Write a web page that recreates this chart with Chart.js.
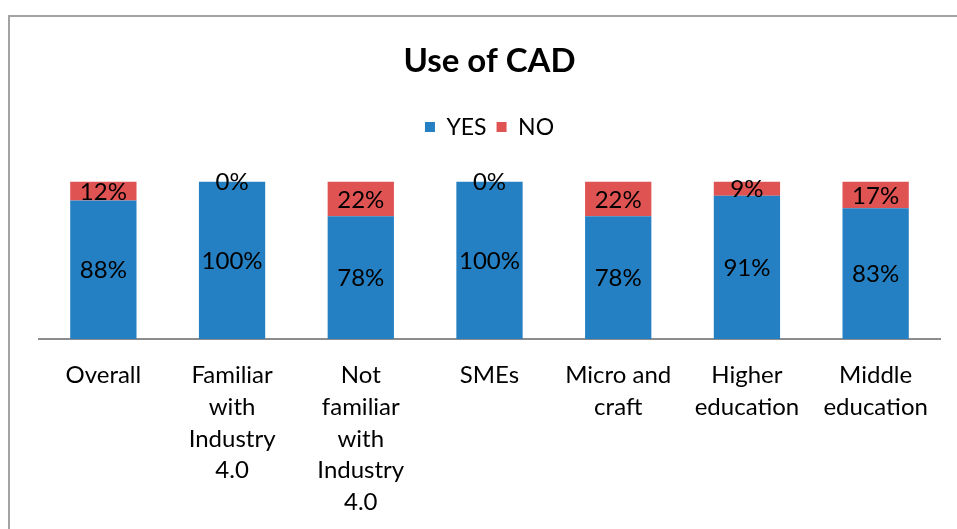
<!DOCTYPE html>
<html>
<head>
<meta charset="utf-8">
<script src="https://cdn.jsdelivr.net/npm/chart.js@4"></script>
<style>
  html, body { margin: 0; padding: 0; background: #fff; }
  #wrap { position: relative; width: 957px; height: 529px; overflow: hidden; }
  #frame {
    position: absolute; left: 8px; top: 15px; width: 1000px; height: 600px;
    border-left: 2px solid #a3a3a3; border-top: 2px solid #a3a3a3;
  }
  #cad-chart { position: absolute; left: 0; top: 0; }
</style>
</head>
<body>
<div id="wrap">
  <div id="frame"></div>
  <canvas id="cad-chart" width="957" height="529"></canvas>
</div>
<script>
// ── DATA ───────────────────────────────────────────
const categories = [
  "Overall",
  ["Familiar", "with", "Industry", "4.0"],
  ["Not", "familiar", "with", "Industry", "4.0"],
  "SMEs",
  ["Micro and", "craft"],
  ["Higher", "education"],
  ["Middle", "education"]
];
const yesValues = [88, 100, 78, 100, 78, 91, 83];
const noValues  = [12, 0, 22, 0, 22, 9, 17];

const FONT = "Lato, 'Open Sans', sans-serif";

// labels in the middle of each segment
const segmentLabels = {
  id: "segmentLabels",
  afterDatasetsDraw(chart) {
    const ctx = chart.ctx;
    ctx.save();
    ctx.font = `24px ${FONT}`;
    ctx.fillStyle = "#000";
    ctx.textAlign = "center";
    ctx.textBaseline = "middle";
    chart.data.datasets.forEach((ds, di) => {
      const meta = chart.getDatasetMeta(di);
      meta.data.forEach((bar, i) => {
        const cy = (bar.y + bar.base) / 2;
        ctx.fillText(ds.data[i] + "%", bar.x, cy + 1);
      });
    });
    ctx.restore();
  }
};

// extra room below the legend
const legendGap = {
  id: "legendGap",
  beforeInit(chart) {
    const lg = chart.legend;
    const fit = lg.fit;
    lg.fit = function () {
      fit.call(lg);
      lg.height += 33;
    };
  }
};

new Chart(document.getElementById("cad-chart").getContext("2d"), {
  type: "bar",
  data: {
    labels: categories,
    datasets: [
      { label: "YES", data: yesValues, backgroundColor: "#2580c3", borderWidth: 0 },
      { label: "NO",  data: noValues,  backgroundColor: "#e05353", borderWidth: 0 }
    ]
  },
  options: {
    responsive: false,
    animation: false,
    datasets: { bar: { barPercentage: 0.515, categoryPercentage: 1 } },
    layout: { padding: { left: 39, right: 17, top: 0, bottom: 10 } },
    scales: {
      x: {
        stacked: true,
        grid: { display: false, drawTicks: false },
        border: { display: true, color: "#8c8c8c", width: 2 },
        ticks: {
          autoSkip: false, maxRotation: 0, minRotation: 0,
          color: "#000", padding: 20,
          font: { family: FONT, size: 24, lineHeight: 1.33 }
        },
        afterFit(scale) { scale.height = 180; }
      },
      y: {
        stacked: true, min: 0, max: 100,
        display: false
      }
    },
    plugins: {
      title: {
        display: true, text: "Use of CAD", color: "#000",
        font: { family: FONT, size: 33, weight: "bold", lineHeight: 1.2 },
        padding: { top: 42, bottom: 24 }
      },
      legend: {
        display: true, position: "top",
        labels: {
          boxWidth: 10, boxHeight: 10, color: "#000", padding: 10,
          font: { family: FONT, size: 23 }
        }
      },
      tooltip: { enabled: false }
    }
  },
  plugins: [segmentLabels, legendGap]
});
</script>
</body>
</html>
